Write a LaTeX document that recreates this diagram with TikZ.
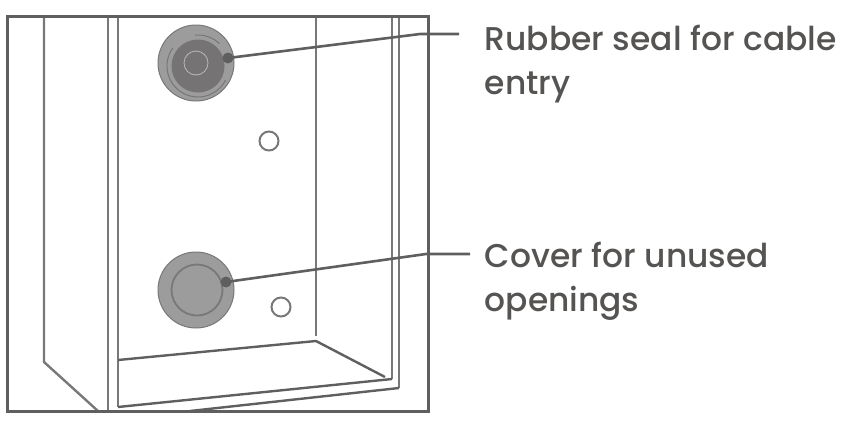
\documentclass[tikz,border=0pt]{standalone}
\usepackage{fontspec}
\setmainfont{Poppins}[UprightFont=* Medium]
\definecolor{framegray}{HTML}{5F5F5F}
\definecolor{wallgray}{HTML}{787878}
\definecolor{sealgray}{HTML}{9C9C9C}
\definecolor{coregray}{HTML}{757374}
\definecolor{textgray}{HTML}{565452}
\tikzset{
	frameline/.style={line width=3pt, color=framegray},
	wallline/.style={line width=2.4pt, color=wallgray},
	edgeline/.style={line width=2.4pt, color=framegray},
	holering/.style={draw=wallgray, line width=2pt, fill=white, circle, minimum size=19pt, inner sep=0pt},
	leaderdot/.style={fill=framegray, circle, minimum size=11pt, inner sep=0pt},
	leaderline/.style={line width=2.6pt, color=framegray},
	partlabel/.style={color=textgray, font=\fontsize{32.9}{44}\selectfont, align=left, anchor=north west, inner sep=0pt}
}

\begin{document}
\begin{tikzpicture}[x=1pt, y=-1pt]
	%%%%% START %%%%%
	\useasboundingbox (0, 0) rectangle (860, 440);

	\draw[wallline] (44, 16) -- (44, 362) -- (98, 411);
	\draw[wallline] (108, 16) -- (108, 411);
	\draw[wallline] (118, 16) -- (118, 407);
	\draw[wallline] (316, 16) -- (316, 336);
	\draw[wallline] (392, 16) -- (392, 379);
	\draw[wallline] (399, 16) -- (399, 388);

	\draw[edgeline] (118, 407) -- (392, 379);
	\draw[edgeline] (399, 388) -- (190, 411);
	\draw[edgeline] (118, 360) -- (316, 341) -- (385, 377);

	\draw[frameline] (7, 16) rectangle (428, 411);

	% rubber seal
	\draw[fill=sealgray, draw=wallgray, line width=1pt] (196, 63) circle (38);
	\draw[fill=coregray, draw=none] (198, 66) circle (26.5);
	\draw[draw=sealgray!70, line width=0.8pt] (196, 63) circle (12);
	\draw[shift={(198, 66)}, draw=coregray, line width=0.9pt] (216:31) arc (216:27:31);
	\draw[shift={(198, 66)}, draw=coregray, line width=0.9pt] (-95:31) arc (-95:-46:31);

	% cover
	\draw[fill=sealgray, draw=wallgray, line width=1pt] (196, 290) circle (38);
	\draw[draw=wallgray, line width=1.8pt] (197, 290) circle (25.5);

	\node[holering] (upperhole) at (269, 141) {};
	\node[holering] (lowerhole) at (281, 307) {};

	% labels
	\node[partlabel] (seallabel) at (484.5, 25) {Rubber seal for cable\\entry};
	\node[partlabel] (coverlabel) at (484.5, 242) {Cover for unused\\openings};

	\node[leaderdot] (sealdot) at (228, 58) {};
	\node[leaderdot] (coverdot) at (226, 282) {};
	\coordinate (sealknee) at (420, 34);
	\coordinate (sealend) at (459, 34);
	\coordinate (coverknee) at (426, 254);
	\coordinate (coverend) at (470, 254);
	\draw[leaderline] (sealdot.center) -- (sealknee) -- (sealend);
	\draw[leaderline] (coverdot.center) -- (coverknee) -- (coverend);
	%%%%% END %%%%%
\end{tikzpicture}
\end{document}
